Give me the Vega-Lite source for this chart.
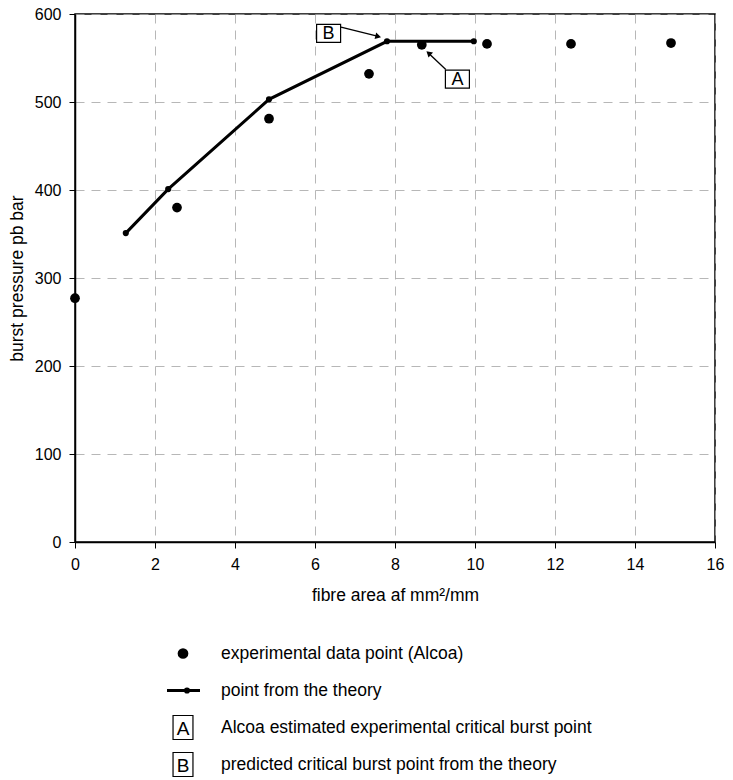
{
  "$schema": "https://vega.github.io/schema/vega-lite/v6.json",
  "padding": {"left": 7, "top": 5, "right": 5, "bottom": 0},
  "bounds": "flush",
  "spacing": 93,
  "config": {
    "font": "Liberation Sans",
    "view": {"stroke": null},
    "axis": {
      "labelFont": "Liberation Sans",
      "titleFont": "Liberation Sans",
      "labelColor": "black",
      "titleColor": "black",
      "domainColor": "black",
      "tickColor": "black",
      "labelFontSize": 16,
      "titleFontSize": 17.5,
      "titleFontWeight": "normal",
      "gridColor": "#a5a5a5",
      "gridDash": [9, 7],
      "gridWidth": 0.8,
      "tickSize": 6,
      "labelPadding": 8,
      "labelFlush": false
    }
  },
  "datasets": {
    "experimental": [
      {"a": 0, "p": 277},
      {"a": 2.55, "p": 380},
      {"a": 4.85, "p": 481},
      {"a": 7.35, "p": 532},
      {"a": 8.67, "p": 565},
      {"a": 10.3, "p": 566},
      {"a": 12.4, "p": 566},
      {"a": 14.9, "p": 567}
    ],
    "theory": [
      {"a": 1.27, "p": 351},
      {"a": 2.33, "p": 401},
      {"a": 4.85, "p": 503},
      {"a": 7.8, "p": 569},
      {"a": 9.97, "p": 569}
    ],
    "boxes": [
      {"label": "B", "a": 6.34, "p": 578},
      {"label": "A", "a": 9.56, "p": 526}
    ],
    "arrows": [
      {"label": "B", "a": 6.65, "p": 585, "a2": 7.58, "p2": 574.5},
      {"label": "A", "a": 9.27, "p": 537, "a2": 8.84, "p2": 555.5}
    ],
    "legend": [
      {"row": 0, "kind": "exp", "box": "", "text": "experimental data point (Alcoa)"},
      {"row": 1, "kind": "theory", "box": "", "text": "point from the theory"},
      {"row": 2, "kind": "box", "box": "A", "text": "Alcoa estimated experimental critical burst point"},
      {"row": 3, "kind": "box", "box": "B", "text": "predicted critical burst point from the theory"}
    ]
  },
  "vconcat": [
    {
      "width": 640,
      "height": 528,
      "view": {"stroke": "black", "strokeWidth": 1.5},
      "encoding": {
        "x": {
          "field": "a",
          "type": "quantitative",
          "scale": {"domain": [0, 16], "nice": false},
          "axis": {
            "values": [0, 2, 4, 6, 8, 10, 12, 14, 16],
            "title": "fibre area af mm²/mm",
            "titlePadding": 14,
            "domainWidth": 1.5
          }
        },
        "y": {
          "field": "p",
          "type": "quantitative",
          "scale": {"domain": [0, 600], "nice": false},
          "axis": {
            "values": [0, 100, 200, 300, 400, 500, 600],
            "title": "burst pressure pb bar",
            "titlePadding": 8,
            "domainWidth": 1.5
          }
        }
      },
      "layer": [
        {
          "data": {"name": "theory"},
          "mark": {
            "type": "line",
            "color": "black",
            "strokeWidth": 3,
            "point": {"filled": true, "size": 38, "color": "black", "opacity": 1}
          }
        },
        {
          "data": {"name": "experimental"},
          "mark": {"type": "point", "shape": "circle", "filled": true, "size": 95, "color": "black", "opacity": 1, "clip": false}
        },
        {
          "data": {"name": "arrows"},
          "mark": {"type": "rule", "color": "black", "strokeWidth": 1.3},
          "encoding": {
            "x2": {"field": "a2"},
            "y2": {"field": "p2"}
          }
        },
        {
          "data": {"name": "arrows"},
          "transform": [{"filter": "datum.label === 'B'"}],
          "mark": {"type": "point", "shape": "triangle-up", "filled": true, "size": 45, "color": "black", "opacity": 1, "angle": 104},
          "encoding": {
            "x": {"field": "a2", "type": "quantitative"},
            "y": {"field": "p2", "type": "quantitative"}
          }
        },
        {
          "data": {"name": "arrows"},
          "transform": [{"filter": "datum.label === 'A'"}],
          "mark": {"type": "point", "shape": "triangle-up", "filled": true, "size": 45, "color": "black", "opacity": 1, "angle": 312},
          "encoding": {
            "x": {"field": "a2", "type": "quantitative"},
            "y": {"field": "p2", "type": "quantitative"}
          }
        },
        {
          "data": {"name": "boxes"},
          "mark": {
            "type": "point",
            "shape": "M-1,-0.75H1V0.75H-1Z",
            "size": 576,
            "filled": true,
            "fill": "white",
            "stroke": "black",
            "strokeWidth": 1.2,
            "opacity": 1
          }
        },
        {
          "data": {"name": "boxes"},
          "mark": {"type": "text", "fontSize": 18, "color": "black", "align": "center", "baseline": "middle", "dy": 1},
          "encoding": {"text": {"field": "label"}}
        }
      ]
    },
    {
      "width": 640,
      "height": 148,
      "data": {"name": "legend"},
      "encoding": {
        "y": {
          "field": "row",
          "type": "quantitative",
          "scale": {"domain": [-0.5, 3.5], "reverse": true, "nice": false},
          "axis": null
        }
      },
      "layer": [
        {
          "transform": [{"filter": "datum.kind === 'exp'"}],
          "mark": {"type": "point", "shape": "circle", "filled": true, "size": 115, "color": "black", "opacity": 1},
          "encoding": {
            "x": {"datum": 2.7, "type": "quantitative", "scale": {"domain": [0, 16], "nice": false}, "axis": null}
          }
        },
        {
          "transform": [{"filter": "datum.kind === 'theory'"}],
          "mark": {"type": "rule", "color": "black", "strokeWidth": 3},
          "encoding": {
            "x": {"datum": 2.3, "type": "quantitative"},
            "x2": {"datum": 3.125}
          }
        },
        {
          "transform": [{"filter": "datum.kind === 'theory'"}],
          "mark": {"type": "point", "shape": "circle", "filled": true, "size": 38, "color": "black", "opacity": 1},
          "encoding": {
            "x": {"datum": 2.8, "type": "quantitative"}
          }
        },
        {
          "transform": [{"filter": "datum.kind === 'box'"}],
          "mark": {
            "type": "point",
            "shape": "M-0.83,-1H0.83V1H-0.83Z",
            "size": 576,
            "filled": true,
            "fill": "white",
            "stroke": "black",
            "strokeWidth": 1.2,
            "opacity": 1
          },
          "encoding": {
            "x": {"datum": 2.7, "type": "quantitative"}
          }
        },
        {
          "transform": [{"filter": "datum.kind === 'box'"}],
          "mark": {"type": "text", "fontSize": 19, "color": "black", "align": "center", "baseline": "middle", "dy": 1},
          "encoding": {
            "x": {"datum": 2.7, "type": "quantitative"},
            "text": {"field": "box"}
          }
        },
        {
          "mark": {"type": "text", "fontSize": 17.5, "color": "black", "align": "left", "baseline": "middle"},
          "encoding": {
            "x": {"datum": 3.65, "type": "quantitative"},
            "text": {"field": "text"}
          }
        }
      ]
    }
  ]
}
